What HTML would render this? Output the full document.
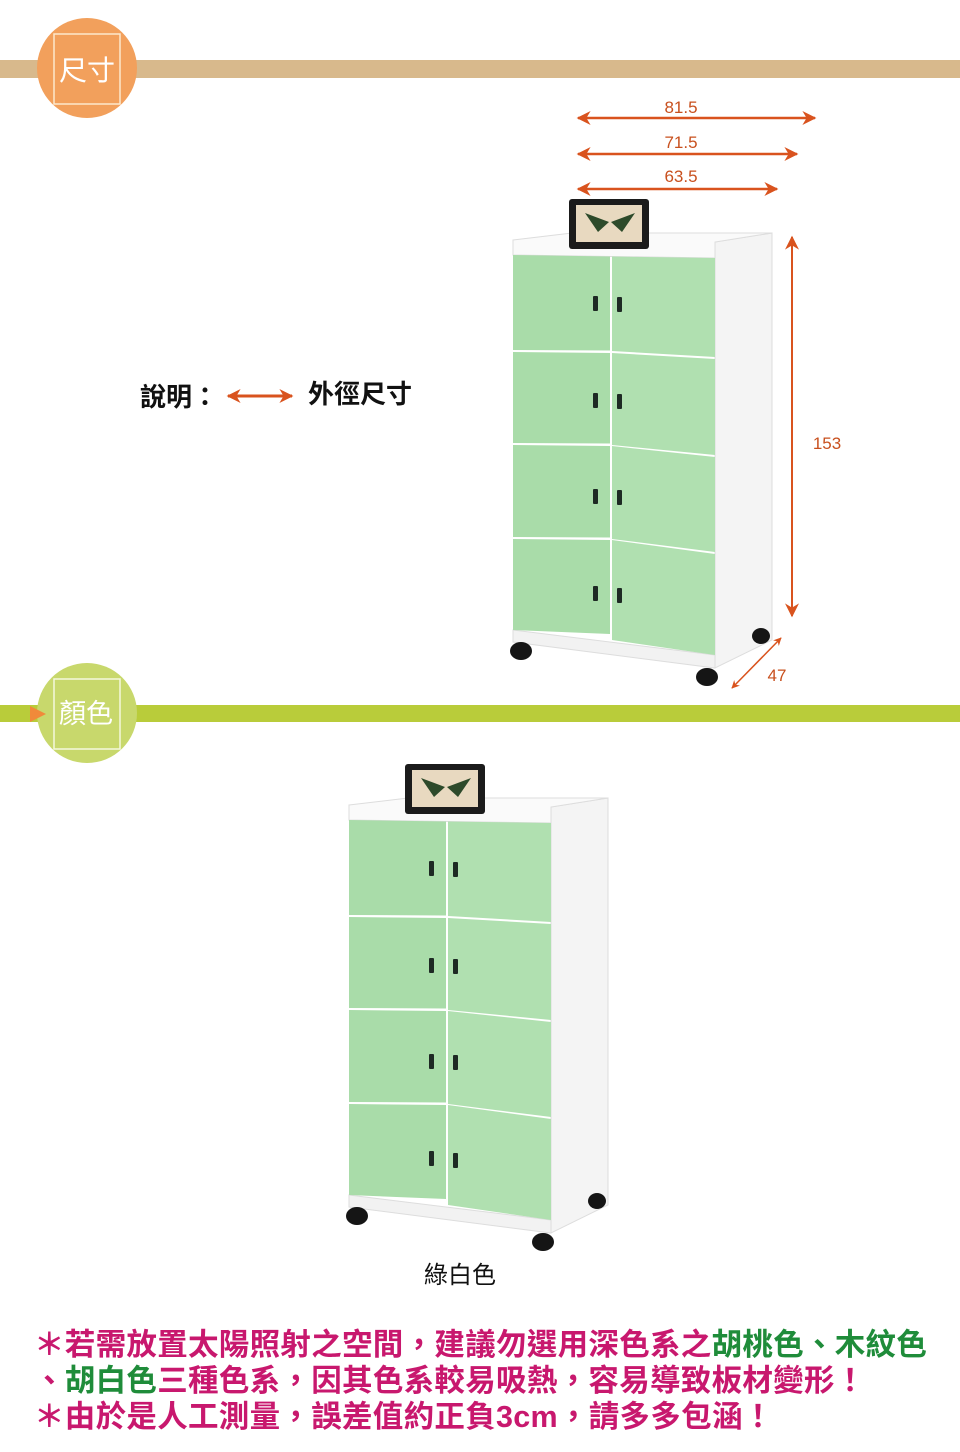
<!DOCTYPE html>
<html><head><meta charset="utf-8"><style>
html,body{margin:0;padding:0;background:#fff}
body{width:960px;height:1452px;position:relative;overflow:hidden;font-family:"Liberation Sans","Noto Sans CJK TC",sans-serif}
svg{position:absolute;left:0;top:0}
.t{position:absolute;left:34px;font-size:30.5px;font-weight:bold;color:#c8186e;white-space:nowrap;font-family:"Liberation Sans","Noto Sans CJK TC",sans-serif;letter-spacing:0.3px}
.g{color:#1f8c3a}
</style></head><body>
<svg width="960" height="1452" viewBox="0 0 960 1452">
<defs>
<marker id="ah" viewBox="0 0 10 10" refX="9" refY="5" markerWidth="8" markerHeight="8" markerUnits="userSpaceOnUse" orient="auto-start-reverse"><path d="M0,0 L10,5 L0,10 L3,5 z" fill="#d9531e"/></marker>
<marker id="ah2" viewBox="0 0 10 10" refX="9" refY="5" markerWidth="16" markerHeight="14" markerUnits="userSpaceOnUse" orient="auto-start-reverse"><path d="M0,0 L10,5 L0,10 L3,5 z" fill="#d9531e"/></marker>
<g id="cab">
  <polygon points="715,242 772,233 772,640 715,668" fill="#f4f4f4" stroke="#ddd" stroke-width="1"/>
  <polygon points="513,240 572,233 772,233 715,242 715,258 513,255" fill="#fafafa" stroke="#ddd" stroke-width="1"/>
  <polygon points="513,630 715,655 715,668 513,642" fill="#f2f2f2" stroke="#ddd"/>
  <polygon points="513,255 610,256.5 610,350.5 513,350" fill="#a9dca9"/>
  <polygon points="612,256.5 715,258 715,357 612,351" fill="#b0e0b0"/>
  <polygon points="513,352 610,353 610,443.5 513,443" fill="#a9dca9"/>
  <polygon points="612,353 715,359 715,455 612,445" fill="#b0e0b0"/>
  <polygon points="513,445 610,446 610,537.5 513,537" fill="#a9dca9"/>
  <polygon points="612,446 715,457 715,552 612,539" fill="#b0e0b0"/>
  <polygon points="513,539 610,540 610,634 513,630" fill="#a9dca9"/>
  <polygon points="612,540 715,554 715,655 612,640" fill="#b0e0b0"/>
  <g fill="#1e2a24">
    <rect x="593" y="296" width="5" height="15" rx="1"/><rect x="617" y="297" width="5" height="15" rx="1"/>
    <rect x="593" y="393" width="5" height="15" rx="1"/><rect x="617" y="394" width="5" height="15" rx="1"/>
    <rect x="593" y="489" width="5" height="15" rx="1"/><rect x="617" y="490" width="5" height="15" rx="1"/>
    <rect x="593" y="586" width="5" height="15" rx="1"/><rect x="617" y="588" width="5" height="15" rx="1"/>
  </g>
  <g fill="#151515"><ellipse cx="521" cy="651" rx="11" ry="9"/><ellipse cx="707" cy="677" rx="11" ry="9"/><ellipse cx="761" cy="636" rx="9" ry="8"/></g>
  <rect x="569" y="199" width="80" height="50" rx="3" fill="#1b1b1b"/>
  <rect x="576" y="205" width="66" height="37" fill="#e8d9c0"/>
  <path d="M609,222 L585,213 L598,232 Z M611,222 L635,213 L622,232 Z" fill="#2d4a2a"/>
</g>
</defs>

<rect x="0" y="60" width="960" height="18" fill="#d8b98c"/>
<circle cx="87" cy="68" r="50" fill="#f2a05c"/>
<rect x="54" y="34" width="66" height="70" fill="none" stroke="#fde8cc" stroke-width="1.5"/>
<text x="87" y="80" font-size="28" fill="#fff" text-anchor="middle" font-family="Liberation Sans,Noto Sans CJK TC,sans-serif">尺寸</text>

<rect x="0" y="705" width="960" height="17" fill="#b9cc3a"/>
<circle cx="87" cy="713" r="50" fill="#c8d86c"/>
<rect x="54" y="679" width="66" height="70" fill="none" stroke="#f4f8dc" stroke-width="1.5"/>
<polygon points="30,706 46,714 30,722" fill="#f08a3a"/>
<text x="86" y="723" font-size="27" fill="#fff" text-anchor="middle" font-family="Liberation Sans,Noto Sans CJK TC,sans-serif">顏色</text>

<g stroke="#d9531e" stroke-width="2.5" fill="none">
  <line x1="578" y1="118" x2="815" y2="118" marker-start="url(#ah2)" marker-end="url(#ah2)"/>
  <line x1="578" y1="154" x2="797" y2="154" marker-start="url(#ah2)" marker-end="url(#ah2)"/>
  <line x1="578" y1="189" x2="777" y2="189" marker-start="url(#ah2)" marker-end="url(#ah2)"/>
  <line x1="792" y1="237" x2="792" y2="616" stroke-width="2" marker-start="url(#ah2)" marker-end="url(#ah2)"/>
  <line x1="732" y1="688" x2="781" y2="638" stroke-width="1.5" marker-start="url(#ah)" marker-end="url(#ah)"/>
  <line x1="228" y1="396" x2="292" y2="396" stroke-width="3" marker-start="url(#ah2)" marker-end="url(#ah2)"/>
</g>
<g fill="#c8501e" font-size="17" font-family="Liberation Sans,sans-serif" text-anchor="middle">
  <text x="681" y="113">81.5</text><text x="681" y="148">71.5</text><text x="681" y="182">63.5</text>
  <text x="827" y="449">153</text><text x="777" y="681">47</text>
</g>
<text x="140" y="406" font-size="26" fill="#111" font-weight="bold" font-family="Liberation Sans,Noto Sans CJK TC,sans-serif">說明：</text>
<text x="308" y="403" font-size="26" fill="#111" font-weight="bold" font-family="Liberation Sans,Noto Sans CJK TC,sans-serif">外徑尺寸</text>

<use href="#cab"/>
<use href="#cab" transform="translate(-164,565)"/>
<text x="460" y="1283" font-size="24" fill="#111" text-anchor="middle" font-family="Liberation Sans,Noto Sans CJK TC,sans-serif">綠白色</text>
</svg>
<div class="t" style="top:1320px">＊若需放置太陽照射之空間，建議勿選用深色系之<span class="g">胡桃色、木紋色</span></div>
<div class="t" style="top:1356px">、<span class="g">胡白色</span>三種色系，因其色系較易吸熱，容易導致板材變形！</div>
<div class="t" style="top:1392px">＊由於是人工測量，誤差值約正負3cm，請多多包涵！</div>
</body></html>
